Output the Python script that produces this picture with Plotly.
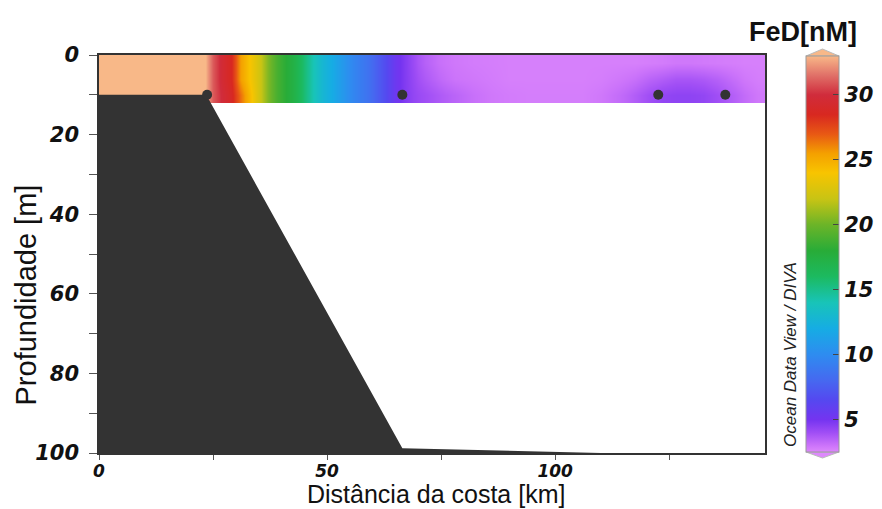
import plotly.graph_objects as go

# ---------------- data ----------------
# column edges (km) of the interpolated FeD section
x_edges = [0, 6, 12, 18, 22, 24, 26, 28, 30, 32, 34, 36, 38, 40, 42, 44, 46, 48, 50, 52,
           54, 56, 58, 60, 62, 64, 66, 68, 70, 73, 76, 80, 84, 88, 92, 96, 100, 104, 108,
           112, 116, 119, 122, 125, 128, 131, 134, 137, 140, 143, 146]
# depth edges (m) of the section rows
depth_edges = [0, 4, 8, 12]

# FeD [nM] per column, upper / middle / lower row
fe_upper = [34, 34, 34, 34, 33.5, 31, 29.5, 28.5, 25.5, 24, 22.5, 20.5, 19, 18, 17, 15.5,
            14, 12.8, 12, 11, 10, 9.2, 8.5, 7.5, 6.5, 5.3, 4.7, 4.1, 3.5, 3.1, 2.9, 2.8,
            2.75, 2.7, 2.7, 2.7, 2.7, 2.7, 2.7, 2.7, 2.7, 2.75, 2.8, 2.9, 2.9, 2.85, 2.8,
            2.75, 2.7, 2.7]
fe_middle = [34, 34, 34, 34, 33.5, 31, 29.5, 28.5, 25.5, 24, 22.5, 20.5, 19, 18, 17, 15.5,
             14, 12.8, 12, 11, 10, 9.2, 8.5, 7.5, 6.5, 5.3, 4.7, 4.2, 3.7, 3.3, 3.0, 2.9,
             2.8, 2.7, 2.7, 2.7, 2.7, 2.7, 2.75, 2.9, 3.1, 3.4, 3.6, 3.8, 3.8, 3.7, 3.5,
             3.2, 2.9, 2.75]
fe_lower = [34, 34, 34, 34, 33.5, 31, 29.8, 28.8, 26.5, 24.5, 22.5, 20.5, 19, 18, 17, 15.5,
            14, 12.8, 12, 11, 10, 9.2, 8.5, 7.5, 6.5, 5.3, 4.7, 4.3, 4.0, 3.7, 3.4, 3.1,
            2.9, 2.8, 2.75, 2.75, 2.75, 2.75, 2.9, 3.2, 3.6, 4.0, 4.3, 4.4, 4.4, 4.3, 4.0,
            3.6, 3.2, 2.9]

# bathymetry (distance km, depth m)
bathy_x = [0, 23.5, 66.5, 90, 110, 146, 146, 0]
bathy_depth = [10, 10, 98.8, 99.4, 100, 100, 100, 100]

# sampling stations
station_x = [23.7, 66.5, 122.6, 137.3]
station_depth = [10, 10, 10, 10]

x_ticks = [0, 50, 100]
y_ticks = [0, 20, 40, 60, 80, 100]
cb_ticks = [5, 10, 15, 20, 25, 30]
fe_min, fe_max = 2.5, 33

colorscale = [
    [0.000, "#dd88fc"], [0.016, "#cc74fa"], [0.049, "#a04ef5"], [0.082, "#7434f0"],
    [0.131, "#5548f0"], [0.180, "#4668f0"], [0.246, "#2e8cf0"], [0.311, "#16ace4"],
    [0.377, "#18c4b8"], [0.443, "#1cba60"], [0.508, "#28ac38"], [0.574, "#6cb428"],
    [0.639, "#c8c414"], [0.705, "#f8c400"], [0.754, "#f4a000"], [0.803, "#e85814"],
    [0.852, "#d82820"], [0.902, "#d02c3c"], [0.951, "#e07068"], [1.000, "#f8b888"],
]

# ---------------- layout geometry ----------------
W, H = 882, 509
L, R, T, B = 99, 117, 55, 56
pw, ph = W - L - R, H - T - B


def px_x(p):
    return (p - L) / pw


def px_y(p):
    return (H - B - p) / ph


cb_left, cb_right, cb_top, cb_bottom = 806, 839, 56, 452

tick_font = dict(family="DejaVu Sans", size=21, color="#111", weight="bold", style="italic")
xtick_font = dict(family="DejaVu Sans", size=17, color="#111", weight="bold", style="italic")

fig = go.Figure()

fig.add_trace(go.Heatmap(
    x=x_edges, y=depth_edges, z=[fe_upper, fe_middle, fe_lower],
    zsmooth="best", zmin=fe_min, zmax=fe_max, colorscale=colorscale,
    hoverinfo="skip",
    colorbar=dict(
        x=px_x(cb_left), xanchor="left", xref="paper", xpad=0,
        y=px_y((cb_top + cb_bottom) / 2), yanchor="middle", ypad=0,
        len=cb_bottom - cb_top, lenmode="pixels",
        thickness=cb_right - cb_left, thicknessmode="pixels",
        outlinewidth=1, outlinecolor="#999",
        tickvals=cb_ticks, ticks="inside", ticklen=6, tickcolor="#444",
        tickfont=tick_font,
    ),
))

fig.add_trace(go.Scatter(
    x=bathy_x, y=bathy_depth, fill="toself", fillcolor="#333333",
    mode="lines", line=dict(width=0, color="#333333"), hoverinfo="skip", showlegend=False,
))

fig.add_trace(go.Scatter(
    x=station_x, y=station_depth, mode="markers",
    marker=dict(size=10, color="#333333"), showlegend=False, hoverinfo="skip",
))

# colorbar end triangles and left-side ticks
shapes = []
cx0, cx1 = px_x(cb_left), px_x(cb_right)
cxm = (cx0 + cx1) / 2
shapes.append(dict(type="path", xref="paper", yref="paper",
                   path=f"M {cx0},{px_y(cb_top)} L {cx1},{px_y(cb_top)} L {cxm},{px_y(cb_top - 7)} Z",
                   fillcolor="#f8b888", line=dict(color="#bbb", width=1)))
shapes.append(dict(type="path", xref="paper", yref="paper",
                   path=f"M {cx0},{px_y(cb_bottom)} L {cx1},{px_y(cb_bottom)} L {cxm},{px_y(cb_bottom + 6)} Z",
                   fillcolor="#dd88fc", line=dict(color="#bbb", width=1)))
for v in cb_ticks:
    ypix = cb_bottom - (v - fe_min) / (fe_max - fe_min) * (cb_bottom - cb_top)
    shapes.append(dict(type="line", xref="paper", yref="paper",
                       x0=cx0, x1=px_x(cb_left + 6), y0=px_y(ypix), y1=px_y(ypix),
                       line=dict(color="#444", width=1)))

annotations = [
    dict(text="Distância da costa [km]", xref="paper", yref="paper",
         x=px_x(436), y=px_y(494), xanchor="center", yanchor="middle", showarrow=False,
         font=dict(family="Liberation Sans", size=25, color="#111")),
    dict(text="Profundidade [m]", xref="paper", yref="paper", textangle=-90,
         x=px_x(25.5), y=px_y(295), xanchor="center", yanchor="middle", showarrow=False,
         font=dict(family="Liberation Sans", size=29, color="#111")),
    dict(text="FeD[nM]", xref="paper", yref="paper",
         x=px_x(803), y=px_y(32), xanchor="center", yanchor="middle", showarrow=False,
         font=dict(family="Liberation Sans", size=27, color="#111", weight="bold")),
    dict(text="Ocean Data View / DIVA", xref="paper", yref="paper", textangle=-90,
         x=px_x(790), y=px_y(355), xanchor="center", yanchor="middle", showarrow=False,
         font=dict(family="Liberation Sans", size=17, color="#222", style="italic")),
]

fig.update_layout(
    width=W, height=H, margin=dict(l=L, r=R, t=T, b=B, autoexpand=False),
    paper_bgcolor="white", plot_bgcolor="white",
    shapes=shapes, annotations=annotations, showlegend=False,
    xaxis=dict(range=[0, 146], tickvals=x_ticks, ticks="outside", ticklen=5,
               tickcolor="#555", tickwidth=1, showgrid=False, zeroline=False,
               showline=True, linecolor="#333", linewidth=1.5, mirror=True,
               tickfont=xtick_font, ticklabelstandoff=-3,
               minor=dict(dtick=25, tick0=0, ticks="outside", ticklen=5, tickcolor="#555", showgrid=False)),
    yaxis=dict(range=[100, 0], tickvals=y_ticks, ticks="outside", ticklen=8,
               tickcolor="#555", tickwidth=1, showgrid=False, zeroline=False,
               showline=True, linecolor="#333", linewidth=1.5, mirror=True,
               tickfont=tick_font, ticklabelstandoff=6,
               minor=dict(dtick=10, tick0=0, ticks="outside", ticklen=8, tickcolor="#555", showgrid=False)),
)

fig.write_html("out.html", config={"displayModeBar": False},
               post_script="document.body.style.margin='0px';document.body.style.overflow='hidden';")
